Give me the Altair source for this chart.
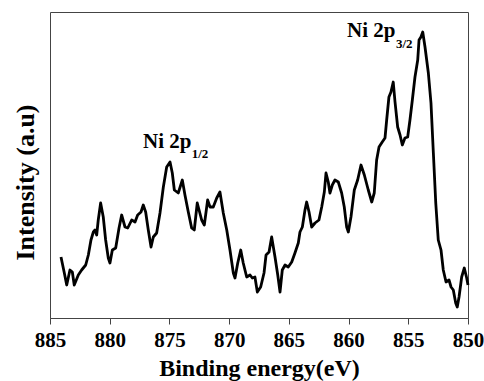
import altair as alt
import pandas as pd

# Binding energy (eV) and intensity (arbitrary units)
energy = [884.08, 883.80, 883.60, 883.33, 883.13, 882.97, 882.63, 882.35, 882.01, 881.79,
          881.57, 881.37, 881.23, 881.09, 880.96, 880.76, 880.54, 880.34, 880.12, 879.98,
          879.78, 879.50, 879.22, 879.00, 878.72, 878.49, 878.16, 877.88, 877.66, 877.38,
          877.19, 876.99, 876.77, 876.54, 876.35, 876.07, 875.79, 875.51, 875.23, 874.95,
          874.76, 874.59, 874.26, 873.92, 873.70, 873.42, 873.14, 872.92, 872.67, 872.30,
          872.08, 871.80, 871.60, 871.33, 871.04, 870.77, 870.49, 870.20, 869.93, 869.65,
          869.51, 869.28, 869.03, 868.82, 868.53, 868.25, 868.06, 867.84, 867.64, 867.36,
          867.08, 866.91, 866.66, 866.44, 866.16, 865.93, 865.74, 865.55, 865.32, 865.05,
          864.76, 864.49, 864.21, 864.07, 863.87, 863.65, 863.51, 863.31, 863.09, 862.81,
          862.48, 862.25, 862.03, 861.89, 861.70, 861.56, 861.36, 861.14, 860.86, 860.58,
          860.36, 860.16, 860.02, 859.80, 859.52, 859.24, 858.96, 858.68, 858.35, 858.06,
          857.85, 857.65, 857.45, 857.18, 856.95, 856.81, 856.62, 856.45, 856.26, 856.11,
          855.89, 855.69, 855.50, 855.28, 855.05, 854.86, 854.66, 854.44, 854.21, 854.10,
          853.94, 853.79, 853.60, 853.32, 853.10, 852.90, 852.70, 852.49, 852.26, 852.07,
          851.84, 851.59, 851.42, 851.23, 851.03, 850.90, 850.75, 850.53, 850.31, 850.11,
          850.00]
intensity = [61, 45, 33, 48, 46, 33, 43, 48, 53, 63,
             78, 86, 88, 83, 98, 115, 101, 78, 60, 55,
             68, 70, 90, 103, 91, 90, 98, 96, 103, 106,
             113, 106, 88, 71, 81, 85, 105, 131, 151, 156,
             145, 128, 125, 138, 123, 106, 90, 88, 115, 98,
             93, 118, 111, 111, 120, 126, 105, 88, 68, 45,
             40, 55, 68, 55, 41, 43, 40, 41, 26, 31,
             45, 63, 66, 81, 61, 43, 26, 48, 53, 51,
             56, 65, 75, 86, 91, 108, 116, 106, 91, 95,
             98, 111, 126, 145, 136, 125, 133, 138, 136, 125,
             111, 91, 86, 101, 128, 138, 153, 143, 128, 116,
             125, 158, 171, 176, 180, 198, 221, 226, 236, 216,
             191, 183, 173, 180, 181, 198, 218, 241, 258, 278,
             281, 286, 271, 245, 215, 165, 115, 78, 68, 48,
             36, 38, 31, 28, 15, 11, 21, 41, 50, 40,
             33]

x_ticks = [850 + 2.5 * i for i in range(15)]

# Annotation text (main part + subscript) placed in data coordinates
ann_main_text = ["Ni 2p", "Ni 2p"]
ann_main_x = [877.21, 860.13]
ann_main_y = [170, 281]
ann_sub_text = ["1/2", "3/2"]
ann_sub_x = [873.14, 856.03]
ann_sub_y = [160, 270]

df = pd.DataFrame({"energy": energy, "intensity": intensity})
ann_main = pd.DataFrame({"x": ann_main_x, "y": ann_main_y, "t": ann_main_text})
ann_sub = pd.DataFrame({"x": ann_sub_x, "y": ann_sub_y, "t": ann_sub_text})

FONT = "Liberation Serif"

xscale = alt.Scale(domain=[850, 885], reverse=True, nice=False, zero=False)
yscale = alt.Scale(domain=[0, 306], nice=False, zero=False)

line = alt.Chart(df).mark_line(color="black", strokeWidth=2.8, strokeJoin="round").encode(
    x=alt.X("energy:Q", scale=xscale,
            axis=alt.Axis(values=x_ticks, title="Binding energy(eV)",
                          labelExpr="datum.value % 5 === 0 ? datum.label : ''",
                          tickSize={"condition": {"test": "datum.value % 5 === 0", "value": 6}, "value": 3},
                          grid=False, domain=True, domainColor="#444", tickColor="#444",
                          labelFont=FONT, labelFontSize=21, labelFontWeight="bold", labelColor="black",
                          labelPadding=5, labelFlush=False, labelOverlap=False,
                          titleFont=FONT, titleFontSize=24, titleFontWeight="bold", titleColor="black",
                          titlePadding=6)),
    y=alt.Y("intensity:Q", scale=yscale,
            axis=alt.Axis(title="Intensity (a.u)", labels=False, ticks=False, domain=False, grid=False,
                          titleFont=FONT, titleFontSize=26, titleFontWeight="bold", titleColor="black",
                          titleX=-25, titleY=170, titleBaseline="middle")),
)

main_txt = alt.Chart(ann_main).mark_text(font=FONT, fontSize=21, fontWeight="bold", color="black",
                                         align="left", baseline="alphabetic").encode(
    x=alt.X("x:Q", scale=xscale), y=alt.Y("y:Q", scale=yscale), text="t:N")

sub_txt = alt.Chart(ann_sub).mark_text(font=FONT, fontSize=13, fontWeight="bold", color="black",
                                       align="left", baseline="alphabetic").encode(
    x=alt.X("x:Q", scale=xscale), y=alt.Y("y:Q", scale=yscale), text="t:N")

chart = alt.layer(line, main_txt, sub_txt).properties(
    width=418, height=306,
    autosize=alt.AutoSizeParams(type="none"),
    padding={"left": 50, "top": 12, "right": 16, "bottom": 63},
    background="white",
).configure_view(stroke="#444", strokeWidth=1)

chart.save("out.html", embed_options={"renderer": "svg", "actions": False})
